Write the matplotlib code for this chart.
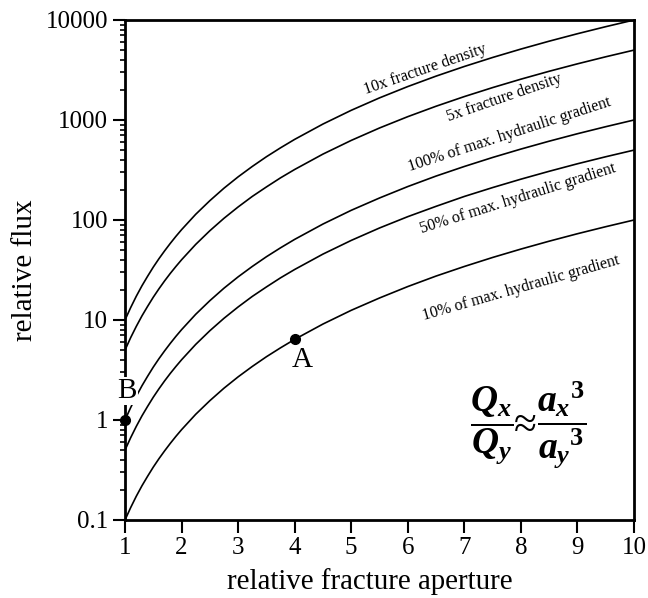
import matplotlib
matplotlib.use("Agg")
import matplotlib.pyplot as plt
from matplotlib.ticker import FixedLocator, FixedFormatter, LogLocator, NullFormatter

plt.rcParams['font.family'] = ['Liberation Serif', 'DejaVu Serif']
plt.rcParams['mathtext.fontset'] = 'custom'
plt.rcParams['mathtext.rm'] = 'Liberation Serif:bold'
plt.rcParams['mathtext.it'] = 'Liberation Serif:bold:italic'
plt.rcParams['mathtext.bf'] = 'Liberation Serif:bold'

# ---- data ----
aperture = [1, 1.1, 1.2, 1.3, 1.4, 1.5, 1.6, 1.7, 1.8, 1.9, 2, 2.25, 2.5, 2.75, 3,
            3.25, 3.5, 3.75, 4, 4.5, 5, 5.5, 6, 6.5, 7, 7.5, 8, 8.5, 9, 9.5, 10]
flux_10pct = [0.1, 0.133, 0.173, 0.22, 0.274, 0.338, 0.41, 0.491, 0.583, 0.686, 0.8,
              1.14, 1.56, 2.08, 2.7, 3.43, 4.29, 5.27, 6.4, 9.11, 12.5, 16.6, 21.6,
              27.5, 34.3, 42.2, 51.2, 61.4, 72.9, 85.7, 100]
flux_50pct = [0.5, 0.665, 0.864, 1.10, 1.37, 1.69, 2.05, 2.46, 2.92, 3.43, 4.0,
              5.70, 7.81, 10.4, 13.5, 17.2, 21.4, 26.4, 32, 45.6, 62.5, 83.2, 108,
              137, 172, 211, 256, 307, 365, 429, 500]
flux_100pct = [1, 1.33, 1.73, 2.2, 2.74, 3.38, 4.1, 4.91, 5.83, 6.86, 8,
               11.4, 15.6, 20.8, 27, 34.3, 42.9, 52.7, 64, 91.1, 125, 166, 216,
               275, 343, 422, 512, 614, 729, 857, 1000]
flux_5x = [5, 6.66, 8.64, 11.0, 13.7, 16.9, 20.5, 24.6, 29.2, 34.3, 40,
           57.0, 78.1, 104, 135, 172, 214, 264, 320, 456, 625, 832, 1080,
           1373, 1715, 2109, 2560, 3071, 3645, 4287, 5000]
flux_10x = [10, 13.3, 17.3, 22, 27.4, 33.8, 41, 49.1, 58.3, 68.6, 80,
            114, 156, 208, 270, 343, 429, 527, 640, 911, 1250, 1664, 2160,
            2746, 3430, 4219, 5120, 6141, 7290, 8574, 10000]

curve_labels = ["10x fracture density", "5x fracture density",
                "100% of max. hydraulic gradient", "50% of max. hydraulic gradient",
                "10% of max. hydraulic gradient"]
label_x = [6.30, 7.70, 7.80, 7.95, 8.00]
label_y = [3200, 1650, 720, 165, 21]
label_rot = [19, 19, 18, 17.5, 16]

point_A = (4, 6.4)
point_B = (1, 1)

x_ticks = [1, 2, 3, 4, 5, 6, 7, 8, 9, 10]
y_ticks = [0.1, 1, 10, 100, 1000, 10000]
y_ticklabels = ["0.1", "1", "10", "100", "1000", "10000"]

fig = plt.figure(figsize=(6.48, 5.98), dpi=100)
ax = fig.add_axes([125/648, 1 - 520/598, 509/648, 500/598])

for ys in [flux_10x, flux_5x, flux_100pct, flux_50pct, flux_10pct]:
    ax.plot(aperture, ys, color='black', lw=1.2, zorder=2)

ax.set_yscale('log')
ax.set_xlim(1, 10)
ax.set_ylim(0.1, 10000)

ax.xaxis.set_major_locator(FixedLocator(x_ticks))
ax.set_xticklabels([str(v) for v in x_ticks])
ax.yaxis.set_major_locator(FixedLocator(y_ticks))
ax.yaxis.set_major_formatter(FixedFormatter(y_ticklabels))
ax.yaxis.set_minor_locator(LogLocator(base=10, subs=range(2, 10)))
ax.yaxis.set_minor_formatter(NullFormatter())

ax.tick_params(axis='both', which='major', direction='out', length=9, width=1.5,
               labelsize=18, pad=3)
ax.tick_params(axis='y', which='minor', direction='out', length=3.5, width=1.2)
ax.tick_params(axis='x', which='minor', length=0)
for s in ax.spines.values():
    s.set_linewidth(2)
    s.set_zorder(3)

ax.set_xlabel("relative fracture aperture", fontsize=20.8)
ax.xaxis.set_label_coords((370 - 125) / 509, -0.096)
ax.set_ylabel("relative flux", fontsize=21, labelpad=6)

for t, lx, ly, r in zip(curve_labels, label_x, label_y, label_rot):
    ax.text(lx, ly, t, rotation=r, ha='center', va='center', fontsize=11.6,
            rotation_mode='anchor')

ax.plot([point_A[0]], [point_A[1]], 'o', color='black', ms=7, zorder=5, clip_on=False)
ax.plot([point_B[0]], [point_B[1]], 'o', color='black', ms=7, zorder=5, clip_on=False)
ax.text(4.13, 4.0, "A", fontsize=21, ha='center', va='center', zorder=6)
ax.text(1.04, 1.95, "B", fontsize=21, ha='center', va='center', zorder=6,
        bbox=dict(facecolor='white', edgecolor='none', pad=0.5))

ax.text(7.86, 0.89, r"$\dfrac{Q_x}{Q_y}$", fontsize=27, ha='right', va='center')
ax.text(8.07, 0.86, "\u2248", fontsize=30, ha='center', va='center',
        family=['Liberation Serif', 'DejaVu Sans'])
ax.text(8.28, 0.89, r"$\dfrac{{a_x}^{3}}{{a_y}^{3}}$", fontsize=27, ha='left', va='center')

fig.savefig("out.png", dpi=100)
